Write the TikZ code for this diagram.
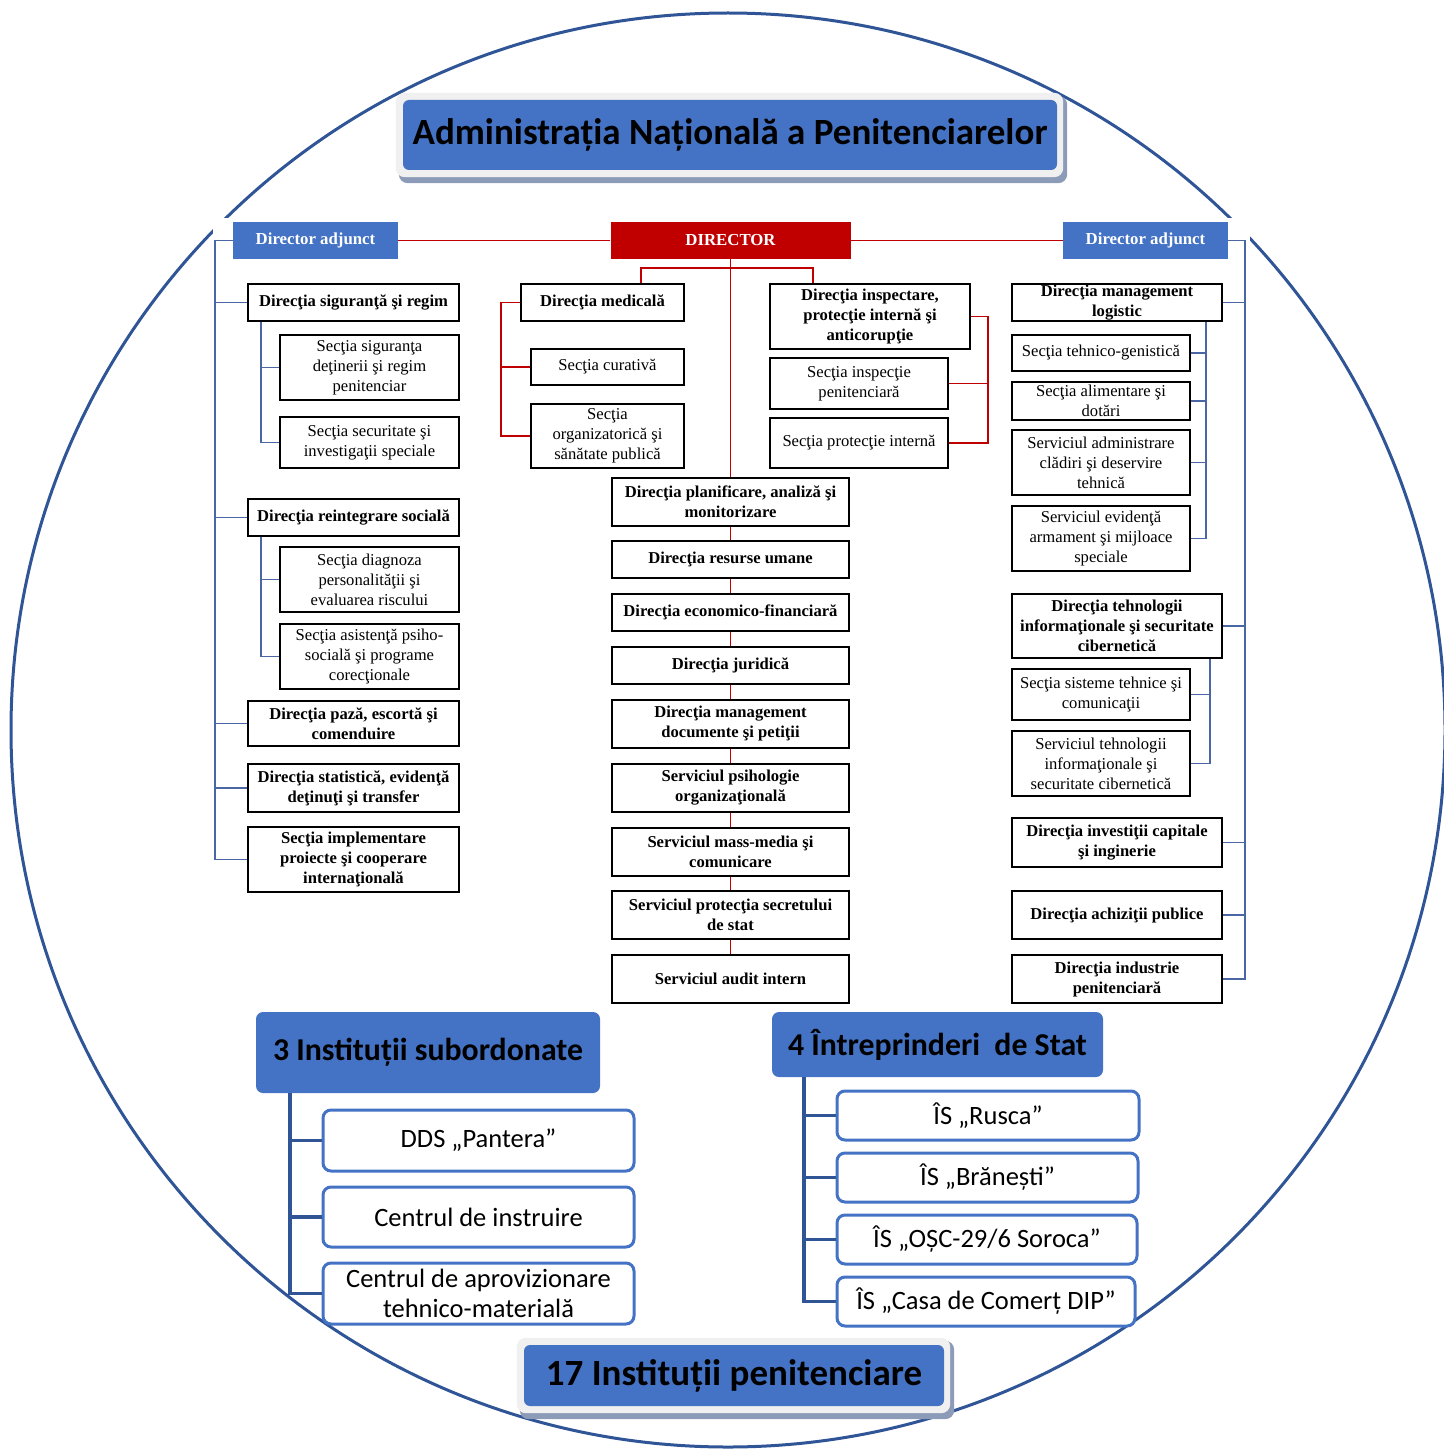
\documentclass[tikz,border=0pt]{standalone}
\usepackage{fontspec}
\setmainfont{Liberation Serif}
\newfontfamily\calfont{Carlito}
\usetikzlibrary{backgrounds}

\definecolor{anpblue}{HTML}{4472C4}
\definecolor{anpred}{HTML}{C00000}
\definecolor{ringblue}{HTML}{2F5597}
\definecolor{linkblue}{HTML}{4A67A3}
\definecolor{framegrey}{HTML}{F0F0F0}
\definecolor{shadowblue}{HTML}{8C9CB8}

\tikzset{
  unitbox/.style={draw=black, line width=1.6pt, fill=white, align=center, inner sep=0pt,
    font=\fontsize{16.6}{20}\selectfont},
  dirbox/.style={unitbox, font=\fontsize{16.6}{20}\selectfont\bfseries},
  headbox/.style={fill=anpblue, text=white, inner sep=0pt, minimum width=165pt, minimum height=37pt,
    font=\fontsize{16.8}{20}\selectfont\bfseries},
  redlink/.style={anpred, line width=1.6pt},
  bluelink/.style={linkblue, line width=1.6pt},
  groupbox/.style={fill=anpblue, rounded corners=7pt, inner sep=0pt,
    font=\calfont\fontsize{31.8}{36}\selectfont\bfseries},
  itembox/.style={draw=anpblue, line width=3pt, fill=white, rounded corners=8pt, inner sep=0pt,
    align=center, font=\calfont\fontsize{26.5}{29.5}\selectfont},
  grouplink/.style={ringblue, line width=3.5pt},
  bannerbox/.style={fill=anpblue, rounded corners=6pt, inner sep=0pt,
    font=\calfont\fontsize{37}{40}\selectfont\bfseries},
}

\begin{document}
\begin{tikzpicture}[x=1pt,y=-1pt]
\useasboundingbox (0,0) rectangle (1443,1450);

% Banners
\node[bannerbox, minimum width=654pt, minimum height=70pt] (anp) at (730,135) {Administrația Națională a Penitenciarelor};
\node[bannerbox, minimum width=420pt, minimum height=61pt] (pen) at (734,1375.5) {17 Instituții penitenciare};

% Top row
\node[headbox] (dal) at (315.5,240.5) {Director adjunct};
\node[headbox, fill=anpred, minimum width=240pt] (dir) at (730.5,240.5) {DIRECTOR};
\node[headbox] (dar) at (1145.5,240.5) {Director adjunct};

% Left column
\node[dirbox, minimum width=211pt, minimum height=37pt] (dsr) at (353.5,302.5) {Direcţia siguranţă şi regim};
\node[unitbox, minimum width=179pt, minimum height=65pt] (ssd) at (369.5,367.5) {Secţia siguranţa\\deţinerii şi regim\\penitenciar};
\node[unitbox, minimum width=179pt, minimum height=51pt] (ssi) at (369.5,442.5) {Secţia securitate şi\\investigaţii speciale};
\node[dirbox, minimum width=211pt, minimum height=37pt] (drs) at (353.5,517.5) {Direcţia reintegrare socială};
\node[unitbox, minimum width=179pt, minimum height=65pt] (sdp) at (369.5,579.5) {Secţia diagnoza\\personalităţii şi\\evaluarea riscului};
\node[unitbox, minimum width=179pt, minimum height=65pt] (sap) at (369.5,656.5) {Secţia asistenţă psiho-\\socială şi programe\\corecţionale};
\node[dirbox, minimum width=211pt, minimum height=45pt] (dpe) at (353.5,723.5) {Direcţia pază, escortă şi\\comenduire};
\node[dirbox, minimum width=211pt, minimum height=48pt] (dse) at (353.5,788) {Direcţia statistică, evidenţă\\deţinuţi şi transfer};
\node[dirbox, minimum width=211pt, minimum height=65pt] (sip) at (353.5,859.5) {Secţia implementare\\proiecte şi cooperare\\internaţională};

% Middle column
\node[dirbox, minimum width=163pt, minimum height=37pt] (dmed) at (602.5,302.5) {Direcţia medicală};
\node[unitbox, minimum width=153pt, minimum height=36pt] (scur) at (607.5,367) {Secţia curativă};
\node[unitbox, minimum width=153pt, minimum height=64pt] (sorg) at (607.5,436) {Secţia\\organizatorică şi\\sănătate publică};
\node[dirbox, minimum width=200pt, minimum height=65pt] (dinsp) at (870,316.5) {Direcţia inspectare,\\protecţie internă şi\\anticorupţie};
\node[unitbox, minimum width=178pt, minimum height=51pt] (sinsp) at (859,383.5) {Secţia inspecţie\\penitenciară};
\node[unitbox, minimum width=178pt, minimum height=50pt] (sprot) at (859,443) {Secţia protecţie internă};
\node[dirbox, minimum width=237pt, minimum height=48pt] (dplan) at (730.5,502) {Direcţia planificare, analiză şi\\monitorizare};
\node[dirbox, minimum width=237pt, minimum height=37pt] (drum) at (730.5,559.5) {Direcţia resurse umane};
\node[dirbox, minimum width=237pt, minimum height=37pt] (deco) at (730.5,612.5) {Direcţia economico-financiară};
\node[dirbox, minimum width=237pt, minimum height=37pt] (djur) at (730.5,665.5) {Direcţia juridică};
\node[dirbox, minimum width=237pt, minimum height=48pt] (dmdp) at (730.5,724) {Direcţia management\\documente şi petiţii};
\node[dirbox, minimum width=237pt, minimum height=48pt] (spsi) at (730.5,788) {Serviciul psihologie\\organizaţională};
\node[dirbox, minimum width=237pt, minimum height=48pt] (smm) at (730.5,852) {Serviciul mass-media şi\\comunicare};
\node[dirbox, minimum width=237pt, minimum height=48pt] (spss) at (730.5,915) {Serviciul protecţia secretului\\de stat};
\node[dirbox, minimum width=237pt, minimum height=48pt] (saud) at (730.5,979) {Serviciul audit intern};

% Right column
\node[dirbox, minimum width=210pt, minimum height=37pt] (dml) at (1117,302.5) {Direcţia management\\logistic};
\node[unitbox, minimum width=178pt, minimum height=36pt] (stg) at (1101,353) {Secţia tehnico-genistică};
\node[unitbox, minimum width=178pt, minimum height=38pt] (sad) at (1101,401) {Secţia alimentare şi\\dotări};
\node[unitbox, minimum width=178pt, minimum height=65pt] (sacd) at (1101,462.5) {Serviciul administrare\\clădiri şi deservire\\tehnică};
\node[unitbox, minimum width=178pt, minimum height=65pt] (sea) at (1101,538.5) {Serviciul evidenţă\\armament şi mijloace\\speciale};
\node[dirbox, minimum width=210pt, minimum height=64pt] (dti) at (1117,626) {Direcţia tehnologii\\informaţionale şi securitate\\cibernetică};
\node[unitbox, minimum width=178pt, minimum height=51pt] (sst) at (1101,694.5) {Secţia sisteme tehnice şi\\comunicaţii};
\node[unitbox, minimum width=178pt, minimum height=65pt] (sti) at (1101,763.5) {Serviciul tehnologii\\informaţionale şi\\securitate cibernetică};
\node[dirbox, minimum width=210pt, minimum height=49pt] (dic) at (1117,842.5) {Direcţia investiţii capitale\\şi inginerie};
\node[dirbox, minimum width=210pt, minimum height=48pt] (dap) at (1117,915) {Direcţia achiziţii publice};
\node[dirbox, minimum width=210pt, minimum height=48pt] (dip) at (1117,979) {Direcţia industrie\\penitenciară};

% Subordinate institutions
\node[groupbox, minimum width=344pt, minimum height=81pt] (isub) at (428,1052.5) {3 Instituții subordonate};
\node[itembox, minimum width=311pt, minimum height=61pt] (dds) at (478.5,1140.5) {DDS „Pantera”};
\node[itembox, minimum width=311pt, minimum height=60pt] (cin) at (478.5,1217) {Centrul de instruire};
\node[itembox, minimum width=311pt, minimum height=61pt] (cap) at (478.5,1293.5) {Centrul de aprovizionare\\tehnico-materială};

% State enterprises
\node[groupbox, minimum width=331pt, minimum height=65pt] (ent) at (937.5,1044.5) {4 Întreprinderi\ \ de Stat};
\node[itembox, minimum width=302pt, minimum height=49pt] (rus) at (988,1115.5) {ÎS „Rusca”};
\node[itembox, minimum width=301pt, minimum height=49pt] (bra) at (987.5,1177.5) {ÎS „Brănești”};
\node[itembox, minimum width=300pt, minimum height=49pt] (osc) at (987,1239.5) {ÎS „OȘC-29/6 Soroca”};
\node[itembox, minimum width=298pt, minimum height=49pt] (cdc) at (986,1301.5) {ÎS „Casa de Comerț DIP”};

% Director links
\draw[redlink] (dal) -- (dir);
\draw[redlink] (dir) -- (dar);
\foreach \a/\b in {dir/dplan, dplan/drum, drum/deco, deco/djur, djur/dmdp, dmdp/spsi, spsi/smm, smm/spss, spss/saud}
  \draw[redlink] (\a) -- (\b);
\coordinate (medtop) at (641,268);
\coordinate (insptop) at (813,268);
\draw[redlink] (medtop |- dmed.north) -- (medtop) -- (insptop) -- (insptop |- dinsp.north);
\coordinate (medbr) at (501,0);
\draw[redlink] (dmed.west) -| (medbr |- sorg.west) -- (sorg.west);
\draw[redlink] (medbr |- scur.west) -- (scur.west);
\coordinate (inspbr) at (988,0);
\draw[redlink] (dinsp.east) -| (inspbr |- sprot.east) -- (sprot.east);
\draw[redlink] (inspbr |- sinsp.east) -- (sinsp.east);

% Deputy links, left
\coordinate (ltrunk) at (215,0);
\draw[bluelink] (dal.west) -| (ltrunk |- sip.west) -- (sip.west);
\foreach \n in {dsr,drs,dpe,dse}
  \draw[bluelink] (ltrunk |- \n.west) -- (\n.west);
\coordinate (lsub) at (261,0);
\draw[bluelink] (lsub |- dsr.south) |- (ssi.west);
\draw[bluelink] (lsub |- ssd.west) -- (ssd.west);
\draw[bluelink] (lsub |- drs.south) |- (sap.west);
\draw[bluelink] (lsub |- sdp.west) -- (sdp.west);

% Deputy links, right
\coordinate (rtrunk) at (1245,0);
\draw[bluelink] (dar.east) -| (rtrunk |- dip.east) -- (dip.east);
\foreach \n in {dml,dti,dic,dap}
  \draw[bluelink] (rtrunk |- \n.east) -- (\n.east);
\coordinate (rsub) at (1206,0);
\draw[bluelink] (rsub |- dml.south) |- (sea.east);
\foreach \n in {stg,sad,sacd}
  \draw[bluelink] (rsub |- \n.east) -- (\n.east);
\coordinate (rsubit) at (1210,0);
\draw[bluelink] (rsubit |- dti.south) |- (sti.east);
\draw[bluelink] (rsubit |- sst.east) -- (sst.east);

% Group links
\coordinate (isubbr) at (290,0);
\draw[grouplink] (isubbr |- isub.south) |- (cap.west);
\foreach \n in {dds,cin}
  \draw[grouplink] (isubbr |- \n.west) -- (\n.west);
\coordinate (entbr) at (804,0);
\draw[grouplink] (entbr |- ent.south) |- (cdc.west);
\foreach \n in {rus,bra,osc}
  \draw[grouplink] (entbr |- \n.west) -- (\n.west);

% Ring, chart sheet and banner frames
\begin{scope}[on background layer]
  \draw[ringblue, line width=3pt] (728,730) circle[radius=717pt];
  \fill[white] (213,218) rectangle (1250,1006);
  \foreach \n in {anp,pen} {
    \fill[shadowblue, rounded corners=9pt] ([shift={(-4,-4)}]\n.north west) rectangle ([shift={(10,13)}]\n.south east);
    \fill[framegrey, rounded corners=9pt] ([shift={(-7,-7)}]\n.north west) rectangle ([shift={(6,7)}]\n.south east);
  }
\end{scope}
\end{tikzpicture}
\end{document}
